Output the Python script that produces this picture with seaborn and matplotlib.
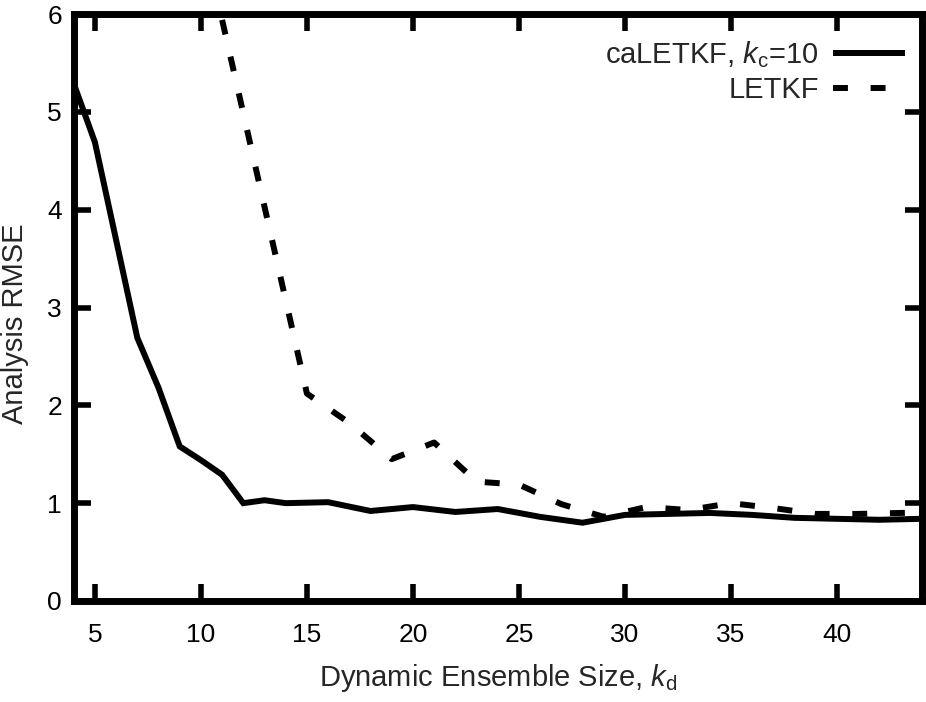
import numpy as np
import pandas as pd
import matplotlib
matplotlib.use("Agg")
import matplotlib.pyplot as plt
import seaborn as sns

# values
ca_k = [4, 5, 6, 7, 8, 9, 10, 11, 12, 13, 14, 16, 18, 20, 22, 24, 26, 28,
        30, 32, 34, 36, 38, 40, 42, 44]
ca_rmse = [5.29, 4.69, 3.69, 2.69, 2.18, 1.58, 1.44, 1.29, 1.00, 1.03, 1.00,
           1.01, 0.92, 0.96, 0.91, 0.94, 0.86, 0.80, 0.88, 0.89, 0.90, 0.88,
           0.85, 0.84, 0.83, 0.84]

letkf_k = [11, 13, 15, 17, 19, 21, 23, 25, 27, 29, 31, 33, 35, 37, 39, 41,
           43, 45]
letkf_rmse = [5.94, 4.03, 2.12, 1.82, 1.45, 1.62, 1.22, 1.19, 0.99, 0.86,
              0.96, 0.93, 1.00, 0.95, 0.89, 0.89, 0.90, 0.91]

x_ticks = [5, 10, 15, 20, 25, 30, 35, 40]
y_ticks = [0, 1, 2, 3, 4, 5, 6]

sns.set_theme(style="ticks")
plt.rcParams["font.family"] = ["Liberation Sans", "DejaVu Sans"]
plt.rcParams["mathtext.fontset"] = "custom"
plt.rcParams["mathtext.rm"] = "Liberation Sans"
plt.rcParams["mathtext.it"] = "Liberation Sans:italic"

tick_fs = 19
label_fs = 21
lw = 4.3

fig = plt.figure(figsize=(9.26, 7.02), dpi=100)
ax = fig.add_axes([0.0796, 0.1439, 0.9158, 0.8361])

sns.lineplot(x=ca_k, y=ca_rmse, ax=ax, color="black", linewidth=lw,
             label=r"caLETKF, $k_\mathrm{c}$=10")
sns.lineplot(x=letkf_k, y=letkf_rmse, ax=ax, color="black", linewidth=lw,
             label="LETKF")
ax.lines[1].set_dashes((2.5, 3.8))
for ln in ax.lines:
    ln.set_solid_capstyle("butt")
    ln.set_dash_capstyle("butt")
    ln.set_solid_joinstyle("miter")

ax.set_xlim(4, 44)
ax.set_ylim(0, 6)
ax.set_xticks(x_ticks)
ax.set_yticks(y_ticks)

for sp in ax.spines.values():
    sp.set_visible(True)
    sp.set_linewidth(5)
    sp.set_color("black")

ax.tick_params(axis="both", direction="in", length=12, width=4,
               top=True, right=True, labelsize=tick_fs, colors="black")
ax.tick_params(axis="x", pad=15.5)
ax.tick_params(axis="y", pad=8.4)

ax.set_xlabel(r"Dynamic Ensemble Size, $k_\mathrm{d}$", fontsize=label_fs,
              labelpad=11)
ax.set_ylabel("Analysis RMSE", fontsize=label_fs, labelpad=13)
ax.yaxis.label.set_y(0.472)

leg = ax.legend(loc="upper right", bbox_to_anchor=(0.980, 0.957),
                frameon=False, markerfirst=False, fontsize=label_fs,
                handlelength=2.45, handletextpad=0.5, labelspacing=0.2,
                borderpad=0, borderaxespad=0)
for h in leg.get_lines():
    h.set_linewidth(lw)
    h.set_solid_capstyle("butt")
    h.set_dash_capstyle("butt")

fig.savefig("out.png", dpi=100)
